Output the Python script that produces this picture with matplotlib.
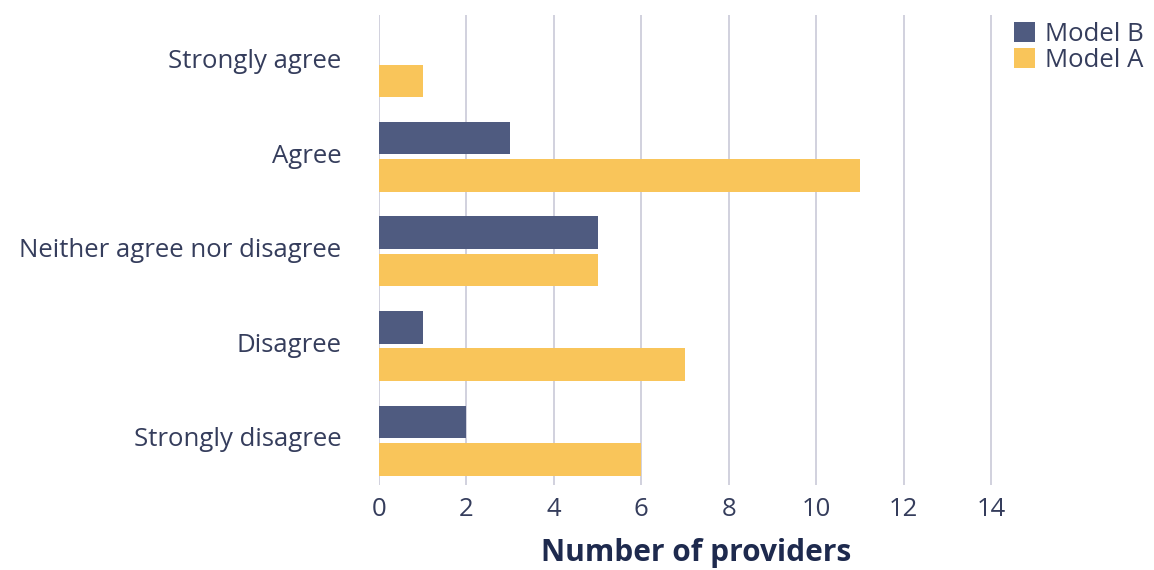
import matplotlib.pyplot as plt
import numpy as np

# Survey response data
categories = ['Strongly agree', 'Agree', 'Neither agree nor disagree',
              'Disagree', 'Strongly disagree']
model_b = [0, 3, 5, 1, 2]
model_a = [1, 11, 5, 7, 6]
x_ticks = [0, 2, 4, 6, 8, 10, 12, 14]

color_b = '#4f5b80'
color_a = '#f9c55a'
text_color = '#1e2a4e'
label_color = '#353d5c'

plt.rcParams['font.family'] = ['Open Sans', 'DejaVu Sans']

fig = plt.figure(figsize=(11.54, 5.70), dpi=100)
ax = fig.add_axes([379 / 1154, 1 - 485 / 570, (1013 - 379) / 1154, 470 / 570])

y = np.arange(len(categories))
h = 0.345
ax.barh(y - h / 2 - 0.025, model_b, height=h, color=color_b, label='Model B', zorder=3)
ax.barh(y + h / 2 + 0.025, model_a, height=h, color=color_a, label='Model A', zorder=3)

ax.set_ylim(4.47, -0.5)
ax.set_xlim(0, 14.5)
ax.set_xticks(x_ticks)
ax.set_xticklabels([str(t) for t in x_ticks])
ax.set_yticks(y - 0.04)
ax.set_yticklabels(categories)
ax.tick_params(axis='both', length=0, labelsize=18.5, labelcolor=label_color)
ax.tick_params(axis='x', pad=9)
ax.tick_params(axis='y', pad=27)

ax.xaxis.grid(True, color='#c9c9d8', linewidth=1.2, zorder=0)
for s in ax.spines.values():
    s.set_visible(False)

ax.set_xlabel('Number of providers', fontsize=21.5, fontweight='bold',
              color=text_color, labelpad=11)

leg = fig.legend(loc='upper right', bbox_to_anchor=(1.0, 0.98), frameon=False,
                 fontsize=18.5, handlelength=0.8, handleheight=0.8,
                 handletextpad=0.4, labelspacing=0.05, borderaxespad=0)
for t in leg.get_texts():
    t.set_color(label_color)

fig.savefig('out.png', dpi=100)
